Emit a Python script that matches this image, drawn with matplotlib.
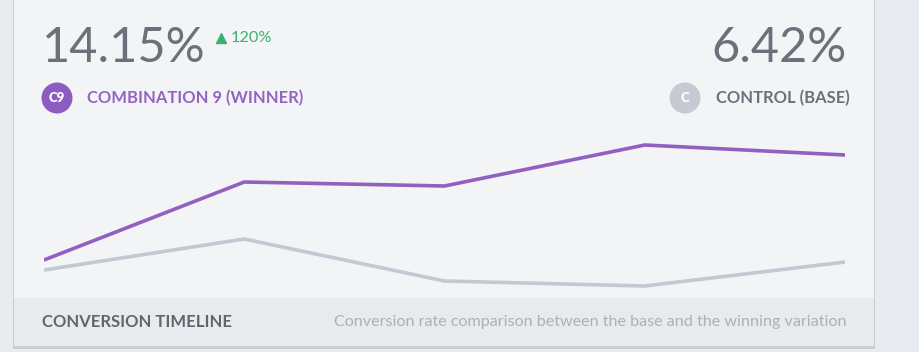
import matplotlib.pyplot as plt
from matplotlib.patches import Rectangle, Circle

# data
points = ["P1", "P2", "P3", "P4", "P5"]
winner = [3.8, 11.6, 11.2, 15.3, 14.3]
control = [2.8, 5.9, 1.7, 1.2, 3.6]

winner_rate = "14.15%"
control_rate = "6.42%"
uplift = "120%"

W, H = 920, 352
fig = plt.figure(figsize=(W / 100, H / 100), dpi=100)
fig.patch.set_facecolor("#e8ebf0")

# background layer in pixel coordinates (y down)
bg = fig.add_axes([0, 0, 1, 1])
bg.set_xlim(0, W)
bg.set_ylim(H, 0)
bg.axis("off")

# card
bg.add_patch(Rectangle((13, 0), 862, 349, facecolor="#c9cdd4", edgecolor="none"))
bg.add_patch(Rectangle((14, 0), 860, 346, facecolor="#f3f4f6", edgecolor="none"))
bg.add_patch(Rectangle((14, 298), 860, 48, facecolor="#e8eaee", edgecolor="none"))

purple = "#9160c1"
gray_line = "#c3c9d2"
text_gray = "#6b717a"

# headline numbers
bg.text(42, 48, winner_rate, fontsize=35, family="Lato", fontweight="normal",
        color=text_gray, va="center", ha="left")
bg.plot([221], [38], marker="^", markersize=6.5, color="#3fae72", linestyle="none")
bg.text(231, 38, uplift, fontsize=11.7, family="Lato", color="#3fae72",
        va="center", ha="left")

bg.text(847, 48, control_rate, fontsize=35, family="Lato", fontweight="normal",
        color=text_gray, va="center", ha="right")

# labels with badges
bg.add_patch(Circle((57, 98), 15.5, facecolor="#8e5cc0", edgecolor="none"))
bg.text(57, 98.5, "C9", fontsize=9.5, family="Lato", fontweight="heavy",
        color="white", ha="center", va="center")
bg.text(87, 98, "COMBINATION 9 (WINNER)", fontsize=11.9, family="Lato",
        fontweight="bold", color="#9463c3", ha="left", va="center")

bg.add_patch(Circle((685, 98), 15.5, facecolor="#c5cad3", edgecolor="none"))
bg.text(685, 98.5, "C", fontsize=9.5, family="Lato", fontweight="heavy",
        color="white", ha="center", va="center")
bg.text(850, 98, "CONTROL (BASE)", fontsize=11.9, family="Lato",
        fontweight="bold", color=text_gray, ha="right", va="center")

# footer
bg.text(42, 322, "CONVERSION TIMELINE", fontsize=11.95, family="Lato",
        fontweight="bold", color="#5f6670", ha="left", va="center")
bg.text(847, 322, "Conversion rate comparison between the base and the winning variation",
        fontsize=11.6, family="Lato", color="#abb1b9", ha="right", va="center")

# timeline chart
ax = fig.add_axes([44 / W, (H - 298) / H, (845 - 44) / W, 168 / H])
ax.patch.set_alpha(0)
x = range(len(points))
ax.plot(x, control, color=gray_line, lw=2.6, solid_joinstyle="miter", solid_capstyle="butt")
ax.plot(x, winner, color=purple, lw=2.6, solid_joinstyle="miter", solid_capstyle="butt")
ax.set_xlim(0, len(points) - 1)
ax.set_ylim(0, 16.8)
ax.axis("off")

fig.savefig("out.png", dpi=100, facecolor=fig.get_facecolor())
